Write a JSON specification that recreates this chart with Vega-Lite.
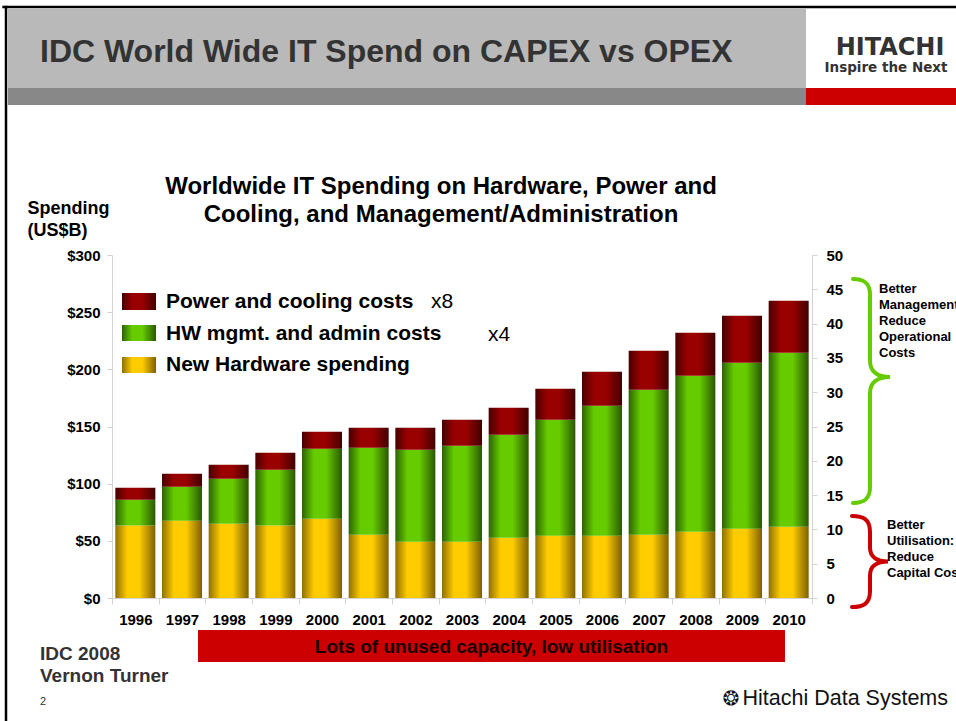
{
  "$schema": "https://vega.github.io/schema/vega-lite/v6.json",
  "width": 700,
  "height": 343,
  "autosize": {"type": "none"},
  "padding": {"left": 112, "top": 255, "right": 144, "bottom": 123},
  "background": "white",
  "config": {"font": "Liberation Sans", "view": {"stroke": null}, "axis": {"labelOverlap": false}},
  "datasets": {
    "spend": [
      {"year": 1996, "series": "New Hardware spending", "value": 63.5},
      {"year": 1996, "series": "HW mgmt. and admin costs", "value": 22.4},
      {"year": 1996, "series": "Power and cooling costs", "value": 10.5},
      {"year": 1997, "series": "New Hardware spending", "value": 67.6},
      {"year": 1997, "series": "HW mgmt. and admin costs", "value": 29.7},
      {"year": 1997, "series": "Power and cooling costs", "value": 11.4},
      {"year": 1998, "series": "New Hardware spending", "value": 64.9},
      {"year": 1998, "series": "HW mgmt. and admin costs", "value": 39.4},
      {"year": 1998, "series": "Power and cooling costs", "value": 12.2},
      {"year": 1999, "series": "New Hardware spending", "value": 63.5},
      {"year": 1999, "series": "HW mgmt. and admin costs", "value": 48.7},
      {"year": 1999, "series": "Power and cooling costs", "value": 14.8},
      {"year": 2000, "series": "New Hardware spending", "value": 69.3},
      {"year": 2000, "series": "HW mgmt. and admin costs", "value": 61.2},
      {"year": 2000, "series": "Power and cooling costs", "value": 14.9},
      {"year": 2001, "series": "New Hardware spending", "value": 55.3},
      {"year": 2001, "series": "HW mgmt. and admin costs", "value": 76.1},
      {"year": 2001, "series": "Power and cooling costs", "value": 17.5},
      {"year": 2002, "series": "New Hardware spending", "value": 49.2},
      {"year": 2002, "series": "HW mgmt. and admin costs", "value": 80.4},
      {"year": 2002, "series": "Power and cooling costs", "value": 19.3},
      {"year": 2003, "series": "New Hardware spending", "value": 49.2},
      {"year": 2003, "series": "HW mgmt. and admin costs", "value": 83.9},
      {"year": 2003, "series": "Power and cooling costs", "value": 22.8},
      {"year": 2004, "series": "New Hardware spending", "value": 52.7},
      {"year": 2004, "series": "HW mgmt. and admin costs", "value": 90.0},
      {"year": 2004, "series": "Power and cooling costs", "value": 23.6},
      {"year": 2005, "series": "New Hardware spending", "value": 54.5},
      {"year": 2005, "series": "HW mgmt. and admin costs", "value": 101.4},
      {"year": 2005, "series": "Power and cooling costs", "value": 27.1},
      {"year": 2006, "series": "New Hardware spending", "value": 54.5},
      {"year": 2006, "series": "HW mgmt. and admin costs", "value": 113.6},
      {"year": 2006, "series": "Power and cooling costs", "value": 29.7},
      {"year": 2007, "series": "New Hardware spending", "value": 55.3},
      {"year": 2007, "series": "HW mgmt. and admin costs", "value": 126.8},
      {"year": 2007, "series": "Power and cooling costs", "value": 34.1},
      {"year": 2008, "series": "New Hardware spending", "value": 58.0},
      {"year": 2008, "series": "HW mgmt. and admin costs", "value": 136.3},
      {"year": 2008, "series": "Power and cooling costs", "value": 37.6},
      {"year": 2009, "series": "New Hardware spending", "value": 60.6},
      {"year": 2009, "series": "HW mgmt. and admin costs", "value": 145.1},
      {"year": 2009, "series": "Power and cooling costs", "value": 41.1},
      {"year": 2010, "series": "New Hardware spending", "value": 62.3},
      {"year": 2010, "series": "HW mgmt. and admin costs", "value": 152.1},
      {"year": 2010, "series": "Power and cooling costs", "value": 45.5}
    ]
  },
  "layer": [
    {
      "layer": [
        {
          "data": {"values": [{"x1": 1993.2714, "x2": 2010.3714, "y1": 515.16, "y2": 446.06}]},
          "mark": {"type": "rect", "color": "#b9b9b9"},
          "encoding": {
            "x": {"field": "x1", "type": "quantitative", "scale": {"domain": [1995.5, 2010.5], "nice": false, "zero": false, "padding": 0}},
            "x2": {"field": "x2"},
            "y": {"field": "y1", "type": "quantitative", "scale": {"domain": [0, 300], "nice": false}},
            "y2": {"field": "y2"}
          }
        },
        {
          "data": {"values": [{"x1": 1993.2714, "x2": 2010.3714, "y1": 446.06, "y2": 431.2}]},
          "mark": {"type": "rect", "color": "#888888"},
          "encoding": {
            "x": {"field": "x1", "type": "quantitative", "scale": {"domain": [1995.5, 2010.5], "nice": false, "zero": false, "padding": 0}},
            "x2": {"field": "x2"},
            "y": {"field": "y1", "type": "quantitative", "scale": {"domain": [0, 300], "nice": false}},
            "y2": {"field": "y2"}
          }
        },
        {
          "data": {"values": [{"x1": 2010.3714, "x2": 2013.7, "y1": 446.06, "y2": 431.2}]},
          "mark": {"type": "rect", "color": "#cc0000"},
          "encoding": {
            "x": {"field": "x1", "type": "quantitative", "scale": {"domain": [1995.5, 2010.5], "nice": false, "zero": false, "padding": 0}},
            "x2": {"field": "x2"},
            "y": {"field": "y1", "type": "quantitative", "scale": {"domain": [0, 300], "nice": false}},
            "y2": {"field": "y2"}
          }
        },
        {
          "data": {"values": [
            {"x1": 1993.15, "x2": 2013.7, "y1": 516.91, "y2": 516.91},
            {"x1": 1993.2286, "x2": 1993.2286, "y1": 517.9, "y2": -112}
          ]},
          "mark": {"type": "rule", "color": "#000000", "strokeWidth": 2.5},
          "encoding": {
            "x": {"field": "x1", "type": "quantitative", "scale": {"domain": [1995.5, 2010.5], "nice": false, "zero": false, "padding": 0}},
            "x2": {"field": "x2"},
            "y": {"field": "y1", "type": "quantitative", "scale": {"domain": [0, 300], "nice": false}},
            "y2": {"field": "y2"}
          }
        },
        {
          "data": {"name": "spend"},
          "transform": [
            {"stack": "value", "groupby": ["year"], "as": ["v0", "v1"]},
            {"filter": "datum.series === 'New Hardware spending'"}
          ],
          "mark": {"type": "bar", "size": 40, "orient": "vertical",
            "fill": {"gradient": "linear", "x1": 0, "x2": 1, "y1": 0, "y2": 0, "stops": [
              {"offset": 0, "color": "#8f7000"}, {"offset": 0.3, "color": "#ffcc00"}, {"offset": 0.6, "color": "#ffcc00"}, {"offset": 1, "color": "#7d6000"}]}},
          "encoding": {
            "x": {"field": "year", "type": "quantitative",
              "scale": {"domain": [1995.5, 2010.5], "nice": false, "zero": false, "padding": 0},
              "axis": {
                "values": [1995.5, 1996.5, 1997.5, 1998.5, 1999.5, 2000.5, 2001.5, 2002.5, 2003.5, 2004.5, 2005.5, 2006.5, 2007.5, 2008.5, 2009.5, 2010.5],
                "labelExpr": "datum.value < 1996 ? '' : format(datum.value - 0.5, 'd')",
                "labelOffset": -23.333,
                "labelFlush": false,
                "labelOverlap": false,
                "labelFontSize": 15,
                "labelFontWeight": "bold",
                "labelColor": "#000000",
                "labelPadding": 8,
                "labelBaseline": "top",
                "tickSize": 6,
                "tickColor": "#d4d4d4",
                "domainColor": "#d4d4d4",
                "grid": false,
                "title": null
              }},
            "y": {"field": "v0", "type": "quantitative",
              "scale": {"domain": [0, 300], "nice": false},
              "axis": {
                "values": [0, 50, 100, 150, 200, 250, 300],
                "labelExpr": "'$' + datum.value",
                "labelOverlap": false,
                "labelFontSize": 15,
                "labelFontWeight": "bold",
                "labelColor": "#000000",
                "labelPadding": 7,
                "tickSize": 5,
                "tickColor": "#d4d4d4",
                "domainColor": "#d4d4d4",
                "grid": false,
                "title": ["Spending", "(US$B)"],
                "titleAngle": 0,
                "titleAlign": "left",
                "titleBaseline": "alphabetic",
                "titleX": -85,
                "titleY": -42,
                "titleFontSize": 18,
                "titleFontWeight": "bold",
                "titleColor": "#000000",
                "titleLineHeight": 22
              }},
            "y2": {"field": "v1"}
          }
        },
        {
          "data": {"name": "spend"},
          "transform": [
            {"stack": "value", "groupby": ["year"], "as": ["v0", "v1"]},
            {"filter": "datum.series === 'HW mgmt. and admin costs'"}
          ],
          "mark": {"type": "bar", "size": 40, "orient": "vertical",
            "fill": {"gradient": "linear", "x1": 0, "x2": 1, "y1": 0, "y2": 0, "stops": [
              {"offset": 0, "color": "#2c6400"}, {"offset": 0.3, "color": "#66cc00"}, {"offset": 0.6, "color": "#66cc00"}, {"offset": 1, "color": "#2a5800"}]}},
          "encoding": {
            "x": {"field": "year", "type": "quantitative", "scale": {"domain": [1995.5, 2010.5], "nice": false, "zero": false, "padding": 0}},
            "y": {"field": "v0", "type": "quantitative", "scale": {"domain": [0, 300], "nice": false}},
            "y2": {"field": "v1"}
          }
        },
        {
          "data": {"name": "spend"},
          "transform": [
            {"stack": "value", "groupby": ["year"], "as": ["v0", "v1"]},
            {"filter": "datum.series === 'Power and cooling costs'"}
          ],
          "mark": {"type": "bar", "size": 40, "orient": "vertical",
            "fill": {"gradient": "linear", "x1": 0, "x2": 1, "y1": 0, "y2": 0, "stops": [
              {"offset": 0, "color": "#480000"}, {"offset": 0.3, "color": "#990000"}, {"offset": 0.6, "color": "#990000"}, {"offset": 1, "color": "#420000"}]}},
          "encoding": {
            "x": {"field": "year", "type": "quantitative", "scale": {"domain": [1995.5, 2010.5], "nice": false, "zero": false, "padding": 0}},
            "y": {"field": "v0", "type": "quantitative", "scale": {"domain": [0, 300], "nice": false}},
            "y2": {"field": "v1"}
          }
        },
        {
          "data": {"values": [{"series": "Power and cooling costs", "x1": 1995.7143, "x2": 1996.4429, "y1": 266.76, "y2": 251.9}]},
          "mark": {"type": "rect",
            "fill": {"gradient": "linear", "x1": 0, "x2": 1, "y1": 0, "y2": 0, "stops": [
              {"offset": 0, "color": "#480000"}, {"offset": 0.3, "color": "#990000"}, {"offset": 0.6, "color": "#990000"}, {"offset": 1, "color": "#420000"}]}},
          "encoding": {
            "x": {"field": "x1", "type": "quantitative", "scale": {"domain": [1995.5, 2010.5], "nice": false, "zero": false, "padding": 0}},
            "x2": {"field": "x2"},
            "y": {"field": "y1", "type": "quantitative", "scale": {"domain": [0, 300], "nice": false}},
            "y2": {"field": "y2"}
          }
        },
        {
          "data": {"values": [{"series": "HW mgmt. and admin costs", "x1": 1995.7143, "x2": 1996.4429, "y1": 238.78, "y2": 224.78}]},
          "mark": {"type": "rect",
            "fill": {"gradient": "linear", "x1": 0, "x2": 1, "y1": 0, "y2": 0, "stops": [
              {"offset": 0, "color": "#2c6400"}, {"offset": 0.3, "color": "#66cc00"}, {"offset": 0.6, "color": "#66cc00"}, {"offset": 1, "color": "#2a5800"}]}},
          "encoding": {
            "x": {"field": "x1", "type": "quantitative", "scale": {"domain": [1995.5, 2010.5], "nice": false, "zero": false, "padding": 0}},
            "x2": {"field": "x2"},
            "y": {"field": "y1", "type": "quantitative", "scale": {"domain": [0, 300], "nice": false}},
            "y2": {"field": "y2"}
          }
        },
        {
          "data": {"values": [{"series": "New Hardware spending", "x1": 1995.7143, "x2": 1996.4429, "y1": 210.79, "y2": 196.79}]},
          "mark": {"type": "rect",
            "fill": {"gradient": "linear", "x1": 0, "x2": 1, "y1": 0, "y2": 0, "stops": [
              {"offset": 0, "color": "#8f7000"}, {"offset": 0.3, "color": "#ffcc00"}, {"offset": 0.6, "color": "#ffcc00"}, {"offset": 1, "color": "#7d6000"}]}},
          "encoding": {
            "x": {"field": "x1", "type": "quantitative", "scale": {"domain": [1995.5, 2010.5], "nice": false, "zero": false, "padding": 0}},
            "x2": {"field": "x2"},
            "y": {"field": "y1", "type": "quantitative", "scale": {"domain": [0, 300], "nice": false}},
            "y2": {"field": "y2"}
          }
        },
        {
          "data": {"values": [
            {"t": "Power and cooling costs", "yr": 1996.6571, "v": 258.89},
            {"t": "HW mgmt. and admin costs", "yr": 1996.6571, "v": 230.9},
            {"t": "New Hardware spending", "yr": 1996.6571, "v": 203.79}
          ]},
          "mark": {"type": "text", "align": "left", "baseline": "middle", "fontSize": 21, "fontWeight": "bold", "color": "#000000"},
          "encoding": {
            "x": {"field": "yr", "type": "quantitative", "scale": {"domain": [1995.5, 2010.5], "nice": false, "zero": false, "padding": 0}},
            "y": {"field": "v", "type": "quantitative", "scale": {"domain": [0, 300], "nice": false}},
            "text": {"field": "t"}
          }
        },
        {
          "data": {"values": [
            {"t": "x8", "yr": 2002.3357, "v": 258.89},
            {"t": "x4", "yr": 2003.5571, "v": 230.03}
          ]},
          "mark": {"type": "text", "align": "left", "baseline": "middle", "fontSize": 21, "color": "#000000"},
          "encoding": {
            "x": {"field": "yr", "type": "quantitative", "scale": {"domain": [1995.5, 2010.5], "nice": false, "zero": false, "padding": 0}},
            "y": {"field": "v", "type": "quantitative", "scale": {"domain": [0, 300], "nice": false}},
            "text": {"field": "t"}
          }
        },
        {
          "data": {"values": [{"x1": 1997.3429, "x2": 2009.9214, "y1": -27.99, "y2": -55.98}]},
          "mark": {"type": "rect", "color": "#cc0000"},
          "encoding": {
            "x": {"field": "x1", "type": "quantitative", "scale": {"domain": [1995.5, 2010.5], "nice": false, "zero": false, "padding": 0}},
            "x2": {"field": "x2"},
            "y": {"field": "y1", "type": "quantitative", "scale": {"domain": [0, 300], "nice": false}},
            "y2": {"field": "y2"}
          }
        },
        {
          "data": {"values": [{"t": "Lots of unused capacity, low utilisation", "yr": 2003.6321, "v": -42.86}]},
          "mark": {"type": "text", "align": "center", "baseline": "middle", "fontSize": 19, "fontWeight": "bold", "color": "#1a0000"},
          "encoding": {
            "x": {"field": "yr", "type": "quantitative", "scale": {"domain": [1995.5, 2010.5], "nice": false, "zero": false, "padding": 0}},
            "y": {"field": "v", "type": "quantitative", "scale": {"domain": [0, 300], "nice": false}},
            "text": {"field": "t"}
          }
        },
        {
          "data": {"values": [{"t": "Worldwide IT Spending on Hardware, Power and\nCooling, and Management/Administration", "yr": 2002.55, "v": 353.35}]},
          "mark": {"type": "text", "align": "center", "baseline": "alphabetic", "fontSize": 24, "fontWeight": "bold", "color": "#000000", "lineBreak": "\n", "lineHeight": 27.5},
          "encoding": {
            "x": {"field": "yr", "type": "quantitative", "scale": {"domain": [1995.5, 2010.5], "nice": false, "zero": false, "padding": 0}},
            "y": {"field": "v", "type": "quantitative", "scale": {"domain": [0, 300], "nice": false}},
            "text": {"field": "t"}
          }
        },
        {
          "data": {"values": [{"t": "IDC World Wide IT Spend on CAPEX vs OPEX", "yr": 1993.9571, "v": 468.8}]},
          "mark": {"type": "text", "align": "left", "baseline": "alphabetic", "fontSize": 32, "fontWeight": "bold", "color": "#333333"},
          "encoding": {
            "x": {"field": "yr", "type": "quantitative", "scale": {"domain": [1995.5, 2010.5], "nice": false, "zero": false, "padding": 0}},
            "y": {"field": "v", "type": "quantitative", "scale": {"domain": [0, 300], "nice": false}},
            "text": {"field": "t"}
          }
        },
        {
          "data": {"values": [{"t": "HITACHI", "yr": 2012.1714, "v": 474.92}]},
          "mark": {"type": "text", "align": "center", "baseline": "alphabetic", "font": "DejaVu Sans", "fontSize": 24, "fontWeight": "bold", "color": "#333333"},
          "encoding": {
            "x": {"field": "yr", "type": "quantitative", "scale": {"domain": [1995.5, 2010.5], "nice": false, "zero": false, "padding": 0}},
            "y": {"field": "v", "type": "quantitative", "scale": {"domain": [0, 300], "nice": false}},
            "text": {"field": "t"}
          }
        },
        {
          "data": {"values": [{"t": "Inspire the Next", "yr": 2012.0857, "v": 460.06}]},
          "mark": {"type": "text", "align": "center", "baseline": "alphabetic", "font": "DejaVu Sans", "fontSize": 13.5, "fontWeight": "bold", "color": "#333333"},
          "encoding": {
            "x": {"field": "yr", "type": "quantitative", "scale": {"domain": [1995.5, 2010.5], "nice": false, "zero": false, "padding": 0}},
            "y": {"field": "v", "type": "quantitative", "scale": {"domain": [0, 300], "nice": false}},
            "text": {"field": "t"}
          }
        },
        {
          "data": {"values": [
            {"t": "IDC 2008", "yr": 1993.9571, "v": -54.23},
            {"t": "Vernon Turner", "yr": 1993.9571, "v": -73.47}
          ]},
          "mark": {"type": "text", "align": "left", "baseline": "alphabetic", "fontSize": 19, "fontWeight": "bold", "color": "#333333"},
          "encoding": {
            "x": {"field": "yr", "type": "quantitative", "scale": {"domain": [1995.5, 2010.5], "nice": false, "zero": false, "padding": 0}},
            "y": {"field": "v", "type": "quantitative", "scale": {"domain": [0, 300], "nice": false}},
            "text": {"field": "t"}
          }
        },
        {
          "data": {"values": [{"t": "2", "yr": 1993.9571, "v": -93.59}]},
          "mark": {"type": "text", "align": "left", "baseline": "alphabetic", "fontSize": 11, "color": "#333333"},
          "encoding": {
            "x": {"field": "yr", "type": "quantitative", "scale": {"domain": [1995.5, 2010.5], "nice": false, "zero": false, "padding": 0}},
            "y": {"field": "v", "type": "quantitative", "scale": {"domain": [0, 300], "nice": false}},
            "text": {"field": "t"}
          }
        },
        {
          "data": {"values": [{"t": "Hitachi Data Systems", "yr": 2013.4143, "v": -93.59}]},
          "mark": {"type": "text", "align": "right", "baseline": "alphabetic", "fontSize": 21.5, "color": "#111111"},
          "encoding": {
            "x": {"field": "yr", "type": "quantitative", "scale": {"domain": [1995.5, 2010.5], "nice": false, "zero": false, "padding": 0}},
            "y": {"field": "v", "type": "quantitative", "scale": {"domain": [0, 300], "nice": false}},
            "text": {"field": "t"}
          }
        },
        {
          "data": {"values": [{"t": "❂", "yr": 2008.7643, "v": -93.59}]},
          "mark": {"type": "text", "align": "center", "baseline": "alphabetic", "font": "DejaVu Sans", "fontSize": 20, "color": "#111111"},
          "encoding": {
            "x": {"field": "yr", "type": "quantitative", "scale": {"domain": [1995.5, 2010.5], "nice": false, "zero": false, "padding": 0}},
            "y": {"field": "v", "type": "quantitative", "scale": {"domain": [0, 300], "nice": false}},
            "text": {"field": "t"}
          }
        }
      ]
    },
    {
      "data": {"values": [{"brace": "Better Management", "yr": 2011.7429, "r": 30.17}]},
      "mark": {"type": "point", "filled": false, "opacity": 1, "color": "#66cc00", "strokeWidth": 4, "strokeCap": "round", "size": 50176,
        "shape": "M -0.152 -1 C -0.06 -1 0 -0.97 0 -0.86 L 0 -0.27 C 0 -0.17 0.07 -0.125 0.179 -0.125 C 0.07 -0.125 0 -0.08 0 0.02 L 0 0.86 C 0 0.97 -0.06 1 -0.152 1"},
      "encoding": {
        "x": {"field": "yr", "type": "quantitative", "scale": {"domain": [1995.5, 2010.5], "nice": false, "zero": false, "padding": 0}},
        "y": {"field": "r", "type": "quantitative", "scale": {"domain": [0, 50], "nice": false},
          "axis": {"orient": "right", "values": [0, 5, 10, 15, 20, 25, 30, 35, 40, 45, 50], "labelOverlap": false, "labelFontSize": 15, "labelFontWeight": "bold", "labelColor": "#000000", "labelPadding": 9, "tickSize": 5, "tickColor": "#d4d4d4", "domainColor": "#d4d4d4", "grid": false, "title": null}}
      }
    },
    {
      "data": {"values": [{"brace": "Better Utilisation", "yr": 2011.7429, "r": 5.32}]},
      "mark": {"type": "point", "filled": false, "opacity": 1, "color": "#cc0000", "strokeWidth": 4, "strokeCap": "round", "size": 8281,
        "shape": "M -0.396 -1 C -0.15 -1 0 -0.93 0 -0.65 L 0 -0.3 C 0 -0.1 0.15 0 0.396 0 C 0.15 0 0 0.1 0 0.3 L 0 0.65 C 0 0.93 -0.15 1 -0.396 1"},
      "encoding": {
        "x": {"field": "yr", "type": "quantitative", "scale": {"domain": [1995.5, 2010.5], "nice": false, "zero": false, "padding": 0}},
        "y": {"field": "r", "type": "quantitative", "scale": {"domain": [0, 50], "nice": false}, "axis": null}
      }
    },
    {
      "data": {"values": [
        {"t": "Better\nManagement:\nReduce\nOperational\nCosts", "yr": 2011.9357, "r": 44.46},
        {"t": "Better\nUtilisation:\nReduce\nCapital Costs", "yr": 2012.1071, "r": 10.01}
      ]},
      "mark": {"type": "text", "align": "left", "baseline": "alphabetic", "fontSize": 13, "fontWeight": "bold", "color": "#000000", "lineBreak": "\n", "lineHeight": 16},
      "encoding": {
        "x": {"field": "yr", "type": "quantitative", "scale": {"domain": [1995.5, 2010.5], "nice": false, "zero": false, "padding": 0}},
        "y": {"field": "r", "type": "quantitative", "scale": {"domain": [0, 50], "nice": false}, "axis": null},
        "text": {"field": "t"}
      }
    }
  ],
  "resolve": {"scale": {"y": "independent"}}
}
